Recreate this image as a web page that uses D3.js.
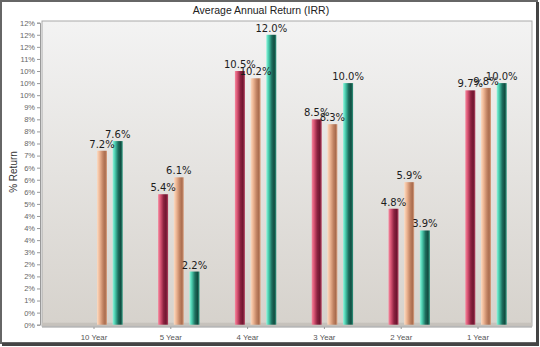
<!DOCTYPE html>
<html>
<head>
<meta charset="utf-8">
<script src="https://cdn.jsdelivr.net/npm/d3@7"></script>
<style>
  html, body { margin: 0; padding: 0; background: #fff; }
  svg { display: block; }
</style>
</head>
<body>
<svg id="chart" width="540" height="347"></svg>
<script>
// Average annual return per holding period, three series
const categories = ["10 Year", "5 Year", "4 Year", "3 Year", "2 Year", "1 Year"];
const series1 = [null, 5.4, 10.5, 8.5, 4.8, 9.7];
const series2 = [7.2, 6.1, 10.2, 8.3, 5.9, 9.8];
const series3 = [7.6, 2.2, 12.0, 10.0, 3.9, 10.0];
const yTicks = [0, 0.5, 1, 1.5, 2, 2.5, 3, 3.5, 4, 4.5, 5, 5.5, 6, 6.5, 7, 7.5, 8, 8.5, 9, 9.5, 10, 10.5, 11, 11.5, 12, 12.5];
const titleText = "Average Annual Return (IRR)";
const yTitle = "% Return";

const seriesValues = [series1, series2, series3];
const gradients = [
  [["0%", "#f58aa0"], ["22%", "#dc5877"], ["55%", "#8c2240"], ["80%", "#6e1630"], ["100%", "#b84262"]],
  [["0%", "#fbdcc4"], ["25%", "#efb896"], ["60%", "#c08262"], ["82%", "#a96c4e"], ["100%", "#dca585"]],
  [["0%", "#8ff5dc"], ["22%", "#4ccfb0"], ["55%", "#1d6e5e"], ["80%", "#124c40"], ["100%", "#2f9a82"]]
];

const svg = d3.select("#chart");
const W = 540, H = 347;
const plot = { left: 42, right: 532, top: 21, bottom: 326 };

const defs = svg.append("defs");
const bg = defs.append("linearGradient").attr("id", "wall").attr("x1", 0).attr("y1", 0).attr("x2", 0).attr("y2", 1);
bg.append("stop").attr("offset", "0%").attr("stop-color", "#f3f3f3");
bg.append("stop").attr("offset", "100%").attr("stop-color", "#d6d2cc");
gradients.forEach((g, i) => {
  const lg = defs.append("linearGradient").attr("id", "bar" + i).attr("x1", 0).attr("y1", 0).attr("x2", 1).attr("y2", 0);
  g.forEach(([o, c]) => lg.append("stop").attr("offset", o).attr("stop-color", c));
});

// scales
const y = d3.scaleLinear().domain([0, 12.5]).range([324.7, 22.7]);
const x0 = d3.scaleBand().domain(categories).range([55.6, 516.4]).padding(0);
const depthShift = 8;
const x1 = d3.scaleBand().domain([0, 1, 2]).range([-20.7, 20.7]).paddingInner(0.363).paddingOuter(0);

// banker's rounding for the percent tick labels
const roundHalfEven = v => {
  const f = Math.floor(v), d = v - f;
  if (Math.abs(d - 0.5) < 1e-9) return (f % 2 === 0) ? f : f + 1;
  return Math.round(v);
};

// plot wall and floor
svg.append("rect").attr("x", plot.left).attr("y", plot.top)
  .attr("width", plot.right - plot.left).attr("height", plot.bottom - plot.top)
  .attr("fill", "url(#wall)").attr("stroke", "#a9a9a9").attr("stroke-width", 1);
svg.append("rect").attr("x", plot.left).attr("y", y(0) - 2)
  .attr("width", plot.right - plot.left).attr("height", 3)
  .attr("fill", "#c6c2bc");

// y axis
const yAxis = d3.axisLeft(y).tickValues(yTicks).tickSize(3).tickPadding(2)
  .tickFormat(d => roundHalfEven(d) + "%");
const gy = svg.append("g").attr("transform", "translate(40,0)").call(yAxis);
gy.select(".domain").attr("stroke", "#999");
gy.selectAll(".tick line").attr("stroke", "#999");
gy.selectAll("text").attr("fill", "#666").style("font", "7.5px 'Liberation Sans', Arial, sans-serif");

// x axis
const xAxis = d3.axisBottom(x0).tickSize(2).tickPadding(5);
const gx = svg.append("g").attr("transform", "translate(0," + (plot.bottom + 1) + ")").call(xAxis);
gx.select(".domain").attr("stroke", "#999").attr("d", `M${plot.left},0H${plot.right}`);
gx.selectAll(".tick line").attr("stroke", "#999");
gx.selectAll("text").attr("fill", "#555").style("font", "7.8px 'Liberation Sans', Arial, sans-serif");

// bars
const barData = [];
categories.forEach((c, ci) => {
  seriesValues.forEach((s, si) => {
    if (s[ci] != null) barData.push({ cat: c, s: si, v: s[ci] });
  });
});
const barX = d => x0(d.cat) + x0.bandwidth() / 2 + depthShift + x1(d.s);
svg.append("g").selectAll("rect").data(barData).join("rect")
  .attr("x", barX)
  .attr("y", d => y(d.v))
  .attr("width", x1.bandwidth())
  .attr("height", d => y(0) - y(d.v))
  .attr("fill", d => `url(#bar${d.s})`);

// value labels
svg.append("g").selectAll("text").data(barData).join("text")
  .attr("x", d => barX(d) + x1.bandwidth() / 2)
  .attr("y", d => y(d.v) - 3)
  .attr("text-anchor", "middle")
  .attr("fill", "#1c1c1c")
  .style("font", "10px 'DejaVu Sans', Verdana, sans-serif")
  .text(d => d.v.toFixed(1) + "%");

// titles
svg.append("text").attr("x", 261).attr("y", 13.5).attr("text-anchor", "middle")
  .attr("fill", "#222").style("font", "10.5px 'Liberation Sans', Arial, sans-serif")
  .text(titleText);
svg.append("text").attr("transform", "translate(17,172) rotate(-90)").attr("text-anchor", "middle")
  .attr("fill", "#333").style("font", "10px 'Liberation Sans', Arial, sans-serif")
  .text(yTitle);

// outer frame
svg.append("rect").attr("x", 1).attr("y", 1).attr("width", W - 4).attr("height", H - 5)
  .attr("fill", "none").attr("stroke", "#666").attr("stroke-width", 2);
svg.append("path").attr("d", `M2,${H - 2.5}H${W - 2.5}V2`).attr("fill", "none")
  .attr("stroke", "#444").attr("stroke-width", 3);
</script>
</body>
</html>
